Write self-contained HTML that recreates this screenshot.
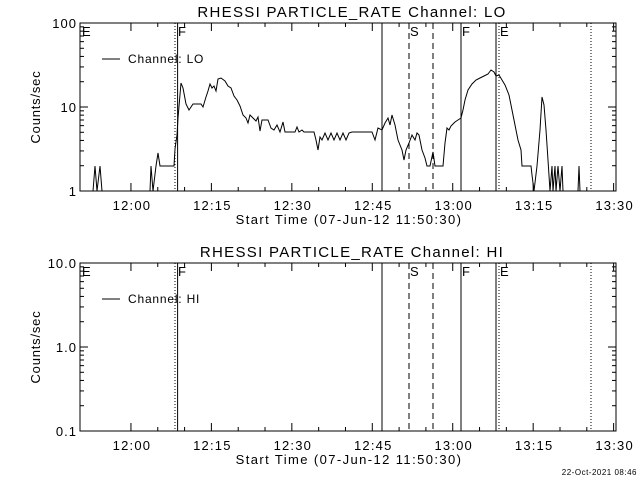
<!DOCTYPE html>
<html><head><meta charset="utf-8"><style>
html,body{margin:0;padding:0;background:#fff;}
svg{display:block;font-family:"Liberation Sans",sans-serif;}
text{fill:#000;}
</style></head><body>
<svg id="s" width="640" height="480" xmlns="http://www.w3.org/2000/svg"></svg>
<script>
var s=document.getElementById('s'),NS='http://www.w3.org/2000/svg';
function el(t,a,txt){var e=document.createElementNS(NS,t);for(var k in a)e.setAttribute(k,a[k]);if(txt!=null)e.textContent=txt;s.appendChild(e);return e;}
var L=80,R=616,ppm=5.363;
function X(m){return L+m*ppm;}
function panel(top,title,labs,leg){
 var bot=top+168;
 el('rect',{x:L,y:top,width:R-L,height:bot-top,fill:'none',stroke:'#000','stroke-width':1});
 el('text',{x:352,y:top-6,'text-anchor':'middle','font-size':15,'letter-spacing':'1.3'},title);
 for(var m=9.5;m<100;m+=5){var x=X(m),major=((m-9.5)%15===0),len=major?8:4;
  el('line',{x1:x,y1:bot,x2:x,y2:bot-len,stroke:'#000'});
  el('line',{x1:x,y1:top,x2:x,y2:top+len,stroke:'#000'});}
 var tl=['12:00','12:15','12:30','12:45','13:00','13:15','13:30'];
 for(var i=0;i<7;i++)el('text',{x:X(9.5+15*i)+1,y:bot+19,'text-anchor':'middle','font-size':13,'letter-spacing':'1.2'},tl[i]);
 el('text',{x:349,y:bot+33,'text-anchor':'middle','font-size':13,'letter-spacing':'1.4'},'Start Time (07-Jun-12 11:50:30)');
 el('text',{x:0,y:0,'font-size':13,'text-anchor':'middle','letter-spacing':'0.8',transform:'translate(40,'+(top+84)+') rotate(-90)'},'Counts/sec');
 for(var d=0;d<2;d++)for(var v=1;v<=10;v++){var y=bot-84*(d+Math.log10(v)),len=(v==1||v==10)?8:4;
  el('line',{x1:L,y1:y,x2:L+len,y2:y,stroke:'#000'});el('line',{x1:R,y1:y,x2:R-len,y2:y,stroke:'#000'});}
 for(var j=0;j<3;j++)el('text',{x:L-3,y:bot-84*j+5,'text-anchor':'end','font-size':13,'letter-spacing':'1'},labs[j]);
 var vl=[[175,'1,2'],[177.6,''],[382,''],[409,'6,4'],[433,'6,4'],[461,''],[496,''],[499,'1,2'],[591,'1,2']];
 vl.forEach(function(a){var o={x1:a[0],y1:top,x2:a[0],y2:bot,stroke:'#000'};if(a[1])o['stroke-dasharray']=a[1];el('line',o);});
 [[82,'E'],[178,'F'],[410,'S'],[462,'F'],[500,'E']].forEach(function(a){el('text',{x:a[0],y:top+13,'font-size':13},a[1]);});
 el('line',{x1:102,y1:top+36,x2:120,y2:top+36,stroke:'#000'});
 el('text',{x:128,y:top+40,'font-size':12,'letter-spacing':'0.8'},leg);
 return bot;
}
panel(23,'RHESSI PARTICLE_RATE Channel: LO',['1','10','100'],'Channel: LO');
panel(263,'RHESSI PARTICLE_RATE Channel: HI',['0.1','1.0','10.0'],'Channel: HI');
var p=[[93,191],[95,166],[97,191],[100,166],[102,191],[150,191],[151,166],[153,191],[156,166],[158,153],[160,166],[174,166],[175,149],[177,135],[178,118],[181,83],[183,88],[186,104],[189,110],[193,104],[201,104],[203,107],[206,97],[208,91],[210,84],[212,88],[214,86],[216,91],[218,79],[221,78],[225,81],[228,86],[231,88],[234,96],[237,100],[240,106],[243,115],[246,118],[248,123],[250,115],[253,118],[256,121],[258,117],[260,131],[262,120],[264,120],[268,120],[271,128],[274,130],[277,125],[280,132],[283,122],[285,132],[295,132],[297,127],[299,132],[302,130],[304,132],[314,132],[316,140],[318,150],[320,137],[322,140],[325,133],[328,140],[331,133],[334,140],[337,133],[340,140],[343,133],[346,140],[349,133],[352,132],[372,132],[375,140],[378,128],[382,130],[385,123],[388,118],[390,125],[392,115],[395,125],[398,140],[402,150],[404,160],[406,150],[409,143],[412,135],[415,140],[417,133],[419,135],[422,150],[425,158],[427,166],[430,166],[433,152],[435,166],[443,166],[445,143],[447,128],[449,130],[451,126],[453,124],[455,122],[461,118],[463,110],[465,100],[468,90],[472,84],[476,80],[480,78],[484,76],[488,74],[491,70],[494,72],[496,76],[499,75],[502,80],[505,85],[509,95],[512,110],[515,125],[518,140],[521,150],[522,166],[531,166],[532,175],[534,191],[537,166],[540,130],[542,97],[544,105],[546,130],[548,160],[550,191],[552,166],[553,191],[555,166],[556,191],[558,166],[560,191],[562,166],[563,191],[578,191],[579,166],[580,191]];
el('polyline',{points:p.map(function(a){return a.join(',');}).join(' '),fill:'none',stroke:'#000','stroke-width':1});
el('text',{x:637,y:475,'text-anchor':'end','font-size':8,'letter-spacing':'0.5'},'22-Oct-2021 08:46');
</script>
</body></html>
